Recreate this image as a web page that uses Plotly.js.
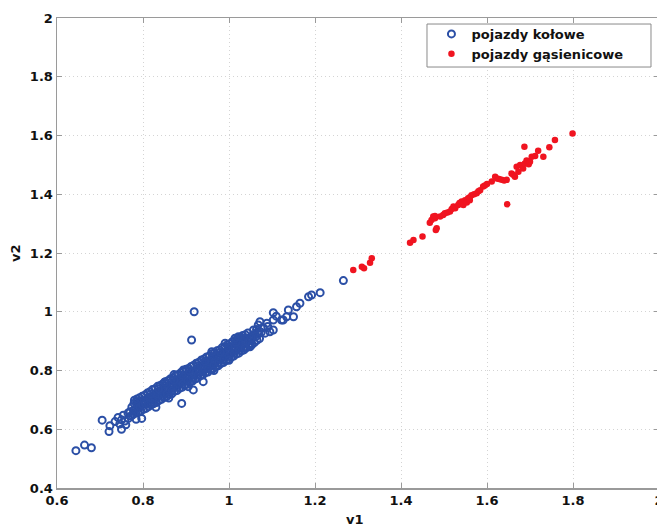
<!DOCTYPE html>
<html>
<head>
<meta charset="utf-8">
<script src="https://cdn.plot.ly/plotly-3.0.1.min.js"></script>
<style>
html,body{margin:0;padding:0;overflow:hidden;background:#fff;}
#chart{width:661px;height:527px;}
</style>
</head>
<body>
<div id="chart"></div>
<script>
// Series labels
var seriesNames = ['pojazdy kołowe', 'pojazdy gąsienicowe'];
var axisTitles = ['v1', 'v2'];

// Tick labels
var xTickVals = [0.6, 0.8, 1.0, 1.2, 1.4, 1.6, 1.8, 2.0];
var xTickText = ['0.6', '0.8', '1', '1.2', '1.4', '1.6', '1.8', '2'];
var yTickVals = [0.4, 0.6, 0.8, 1.0, 1.2, 1.4, 1.6, 1.8, 2.0];
var yTickText = ['0.4', '0.6', '0.8', '1', '1.2', '1.4', '1.6', '1.8', '2'];

// pojazdy kołowe (wheeled) — [v1, v2]
var kolowe = [
 [0.644,0.527],[0.664,0.546],[0.680,0.537],[0.705,0.631],[0.721,0.592],[0.723,0.612],
 [0.735,0.626],[0.750,0.600],[0.750,0.632],[0.754,0.648],[0.766,0.637],[0.760,0.615],
 [0.770,0.660],[0.784,0.634],[0.785,0.694],[0.797,0.637],[0.765,0.655],[0.742,0.640],
 [0.758,0.628],[0.772,0.645],[0.746,0.618],[0.778,0.652],
 [0.775,0.648],[0.778,0.664],[0.774,0.675],[0.779,0.688],
 [0.783,0.655],[0.781,0.668],[0.786,0.682],[0.780,0.699],
 [0.789,0.659],[0.787,0.673],[0.791,0.690],[0.786,0.703],
 [0.795,0.662],[0.793,0.676],[0.797,0.694],[0.792,0.707],
 [0.801,0.668],[0.799,0.684],[0.803,0.697],[0.798,0.712],
 [0.807,0.671],[0.805,0.689],[0.809,0.703],[0.804,0.716],
 [0.813,0.677],[0.811,0.692],[0.815,0.709],[0.810,0.723],
 [0.819,0.683],[0.817,0.699],[0.821,0.712],[0.816,0.728],
 [0.825,0.687],[0.823,0.704],[0.827,0.718],[0.822,0.735],
 [0.831,0.691],[0.829,0.707],[0.833,0.725],[0.828,0.738],
 [0.837,0.698],[0.835,0.713],[0.839,0.728],[0.834,0.746],
 [0.843,0.702],[0.841,0.721],[0.845,0.734],[0.840,0.749],
 [0.849,0.708],[0.847,0.723],[0.851,0.741],[0.846,0.754],
 [0.855,0.711],[0.853,0.730],[0.857,0.744],[0.852,0.762],
 [0.861,0.718],[0.859,0.734],[0.863,0.751],[0.858,0.765],
 [0.867,0.721],[0.865,0.741],[0.869,0.755],[0.864,0.772],
 [0.873,0.729],[0.871,0.744],[0.875,0.762],[0.870,0.775],
 [0.879,0.732],[0.877,0.751],[0.881,0.765],[0.876,0.783],
 [0.885,0.739],[0.883,0.755],[0.887,0.772],[0.882,0.786],
 [0.891,0.743],[0.889,0.762],[0.893,0.776],[0.888,0.793],
 [0.897,0.750],[0.895,0.765],[0.899,0.783],[0.894,0.797],
 [0.903,0.753],[0.901,0.772],[0.905,0.786],[0.900,0.804],
 [0.909,0.760],[0.907,0.776],[0.911,0.793],[0.906,0.807],
 [0.915,0.764],[0.913,0.783],[0.917,0.797],[0.912,0.814],
 [0.921,0.771],[0.919,0.786],[0.923,0.804],[0.918,0.818],
 [0.927,0.774],[0.925,0.793],[0.929,0.807],[0.924,0.825],
 [0.933,0.782],[0.931,0.797],[0.935,0.815],[0.930,0.828],
 [0.939,0.785],[0.937,0.804],[0.941,0.818],[0.936,0.836],
 [0.945,0.792],[0.943,0.807],[0.947,0.825],[0.942,0.839],
 [0.951,0.795],[0.949,0.815],[0.953,0.828],[0.948,0.846],
 [0.957,0.803],[0.955,0.818],[0.959,0.836],[0.954,0.849],
 [0.963,0.806],[0.961,0.825],[0.965,0.839],[0.960,0.857],
 [0.969,0.813],[0.967,0.828],[0.971,0.846],[0.966,0.860],
 [0.975,0.816],[0.973,0.836],[0.977,0.849],[0.972,0.867],
 [0.981,0.824],[0.979,0.839],[0.983,0.857],[0.978,0.870],
 [0.987,0.827],[0.985,0.846],[0.989,0.860],[0.984,0.878],
 [0.993,0.834],[0.991,0.850],[0.995,0.867],[0.990,0.881],
 [0.999,0.838],[0.997,0.857],[1.001,0.870],[0.996,0.888],
 [1.005,0.845],[1.003,0.860],[1.007,0.878],[1.002,0.891],
 [1.011,0.849],[1.009,0.867],[1.013,0.881],[1.008,0.898],
 [1.017,0.856],[1.015,0.871],[1.019,0.888],[1.014,0.902],
 [1.023,0.859],[1.021,0.878],[1.025,0.891],[1.020,0.909],
 [1.029,0.867],[1.027,0.881],[1.031,0.899],[1.026,0.912],
 [1.035,0.870],[1.033,0.889],[1.037,0.902],[1.032,0.919],
 [1.041,0.878],[1.039,0.892],[1.043,0.909],[1.038,0.922],
 [1.047,0.882],[1.045,0.900],[1.049,0.912],[1.044,0.928],
 [1.053,0.890],[1.051,0.904],[1.055,0.920],
 [1.059,0.895],[1.057,0.912],[1.061,0.924],
 [1.065,0.903],[1.063,0.916],[1.067,0.932],
 [1.071,0.909],[1.069,0.925],
 [0.812,0.686],[0.828,0.699],[0.844,0.712],[0.856,0.720],[0.868,0.732],[0.880,0.744],
 [0.892,0.754],[0.904,0.764],[0.916,0.774],[0.928,0.785],[0.940,0.796],[0.952,0.806],
 [0.964,0.816],[0.976,0.827],[0.988,0.838],[1.000,0.849],[1.012,0.859],[1.024,0.869],
 [1.036,0.880],[1.048,0.891],[0.818,0.720],[0.836,0.738],[0.854,0.753],[0.872,0.768],
 [0.890,0.785],[0.908,0.799],[0.926,0.815],[0.944,0.831],[0.962,0.848],[0.980,0.862],
 [0.998,0.879],[1.016,0.895],[1.034,0.910],[1.052,0.912],
 [0.919,1.000],[0.913,0.904],[0.890,0.688],[0.917,0.734],[0.940,0.762],[0.960,0.864],
 [0.991,0.893],[1.022,0.915],[1.049,0.881],[0.894,0.802],[0.872,0.786],[0.850,0.760],
 [0.830,0.675],[0.860,0.706],[0.905,0.745],[0.965,0.800],[1.000,0.835],
 [1.266,1.106],[1.212,1.065],[1.192,1.057],[1.185,1.051],[1.165,1.029],[1.157,1.017],
 [1.138,1.006],[1.150,0.983],[1.134,0.983],[1.103,0.997],[1.103,0.972],[1.122,0.972],
 [1.088,0.961],[1.103,0.938],[1.084,0.927],[1.068,0.955],[1.072,0.966],[1.053,0.887],
 [1.037,0.876],[1.095,0.932],[1.057,0.938],[1.126,0.972],[1.014,0.910],[1.080,0.945],
 [1.075,0.930],[1.064,0.940],[1.090,0.950],[1.110,0.985]
];

// pojazdy gąsienicowe (tracked) — [v1, v2]
var gasienicowe = [
 [1.289,1.142],[1.309,1.153],[1.314,1.148],[1.328,1.167],[1.332,1.182],
 [1.421,1.235],[1.429,1.244],[1.450,1.256],[1.481,1.278],[1.483,1.284],
 [1.467,1.303],[1.471,1.312],[1.475,1.324],[1.479,1.318],[1.479,1.326],[1.491,1.324],
 [1.498,1.329],[1.502,1.335],[1.508,1.338],[1.514,1.341],[1.518,1.350],[1.522,1.358],
 [1.526,1.352],[1.533,1.363],[1.536,1.370],[1.541,1.375],[1.545,1.363],[1.549,1.380],
 [1.553,1.372],[1.556,1.386],[1.560,1.390],[1.560,1.380],[1.564,1.397],[1.570,1.400],
 [1.576,1.403],[1.580,1.410],[1.584,1.414],[1.591,1.426],[1.595,1.430],[1.600,1.435],
 [1.611,1.443],[1.619,1.460],[1.623,1.454],[1.628,1.452],[1.634,1.449],[1.640,1.447],
 [1.646,1.449],[1.647,1.366],[1.657,1.471],[1.661,1.466],[1.665,1.460],[1.669,1.494],
 [1.673,1.477],[1.677,1.500],[1.684,1.488],[1.688,1.505],[1.692,1.515],[1.697,1.502],
 [1.700,1.511],[1.704,1.528],[1.712,1.530],[1.731,1.528],[1.719,1.548],[1.687,1.562],
 [1.745,1.560],[1.758,1.585],[1.799,1.607]
];

var tickFont = {family: 'DejaVu Sans', size: 13, weight: 'bold', color: '#111111'};

var traces = [
 {
  type: 'scatter', mode: 'markers', name: seriesNames[0],
  x: kolowe.map(function(p){return p[0];}),
  y: kolowe.map(function(p){return p[1];}),
  marker: {symbol: 'circle-open', size: 7, color: '#2b4fa6', line: {width: 2, color: '#2b4fa6'}}
 },
 {
  type: 'scatter', mode: 'markers', name: seriesNames[1],
  x: gasienicowe.map(function(p){return p[0];}),
  y: gasienicowe.map(function(p){return p[1];}),
  marker: {symbol: 'circle', size: 6.5, color: '#f01420'}
 }
];

var axisCommon = {
  showline: true, linecolor: '#9a9a9a', linewidth: 1.5, mirror: 'allticks',
  ticks: 'inside', ticklen: 5, tickcolor: '#9a9a9a', tickwidth: 1,
  showgrid: true, gridcolor: '#d4d4d4', griddash: '1px,3px', gridwidth: 1,
  zeroline: false, tickfont: tickFont, automargin: false,
  ticklabeloverflow: 'allow'
};

var layout = {
  width: 661, height: 527,
  margin: {l: 57, r: 2, t: 18, b: 39},
  paper_bgcolor: '#ffffff', plot_bgcolor: '#ffffff',
  showlegend: true,
  xaxis: Object.assign({}, axisCommon, {range: [0.6, 2.0], tickmode: 'array', tickvals: xTickVals, ticktext: xTickText}),
  yaxis: Object.assign({}, axisCommon, {range: [0.4, 2.0], tickmode: 'array', tickvals: yTickVals, ticktext: yTickText}),
  legend: {
    x: 0.622, y: 0.998, xanchor: 'left', yanchor: 'top',
    bgcolor: 'rgba(0,0,0,0)', borderwidth: 0,
    font: {family: 'DejaVu Sans', size: 13, weight: 'bold', color: '#111111'},
    tracegroupgap: 0
  },
  shapes: [
    {type: 'rect', xref: 'paper', yref: 'paper', x0: 0.6146, x1: 0.9867, y0: 0.8957, y1: 0.9872,
     line: {color: '#8a8a8a', width: 1}, fillcolor: '#ffffff', layer: 'above'}
  ],
  annotations: [
    {text: axisTitles[0], xref: 'paper', yref: 'paper', x: 0.495, y: 0, yshift: -31, xanchor: 'center', yanchor: 'middle', showarrow: false, font: tickFont},
    {text: axisTitles[1], xref: 'paper', yref: 'paper', x: 0, y: 0.5, xshift: -42, xanchor: 'center', yanchor: 'middle', textangle: -90, showarrow: false, font: tickFont}
  ]
};

Plotly.newPlot('chart', traces, layout, {displayModeBar: false, staticPlot: true});
</script>
</body>
</html>
